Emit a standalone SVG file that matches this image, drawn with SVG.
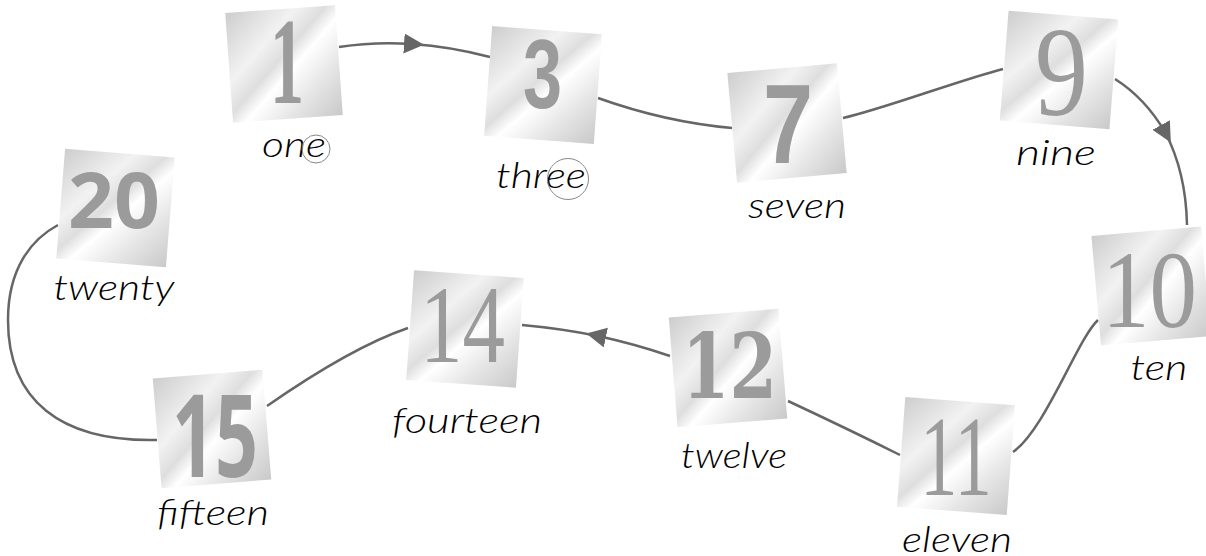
<svg xmlns="http://www.w3.org/2000/svg" width="1206" height="556" viewBox="0 0 1206 556">
<defs>
<linearGradient id="metal" x1="0" y1="0" x2="1" y2="1">
<stop offset="0" stop-color="#cdcdcd"/>
<stop offset="0.32" stop-color="#f2f2f2"/>
<stop offset="0.46" stop-color="#dedede"/>
<stop offset="0.56" stop-color="#ffffff"/>
<stop offset="0.75" stop-color="#e6e6e6"/>
<stop offset="1" stop-color="#c9c9c9"/>
</linearGradient>
<marker id="arr" markerUnits="userSpaceOnUse" markerWidth="22" markerHeight="22" refX="8" refY="10" orient="auto">
<path d="M0,0 L20,10 L0,20 z" fill="#666"/>
</marker>
</defs>
<style>
.tile{fill:url(#metal)}
.num{fill:#9b9b9b;text-anchor:middle}
.lbl{font-family:Lato,"Liberation Sans",sans-serif;font-style:italic;font-weight:300;font-size:35px;fill:#000;text-anchor:middle}
.con{fill:none;stroke:#666;stroke-width:2.5}
.ring{fill:none;stroke:#888;stroke-width:1}
</style>
<rect width="1206" height="556" fill="#fff"/>
<g id="connectors">
<path class="con" d="M339,47 Q374.5,41.5 412,44 Q450,46.5 490,57" marker-mid="url(#arr)"/>
<path class="con" d="M598,98 Q665,122 732,128"/>
<path class="con" d="M843,118 C880,110 960,80 1003,69"/>
<path class="con" d="M1115,79 Q1145,98 1165,132 Q1186,172 1187,225" marker-mid="url(#arr)"/>
<path class="con" d="M1098,320 C1078,338 1045,430 1013,452"/>
<path class="con" d="M900,455 Q850,430 788,401"/>
<path class="con" d="M670,356 Q635,344 598,336 Q561,328.5 522,325" marker-mid="url(#arr)"/>
<path class="con" d="M408,328 Q352,347 267,406"/>
<path class="con" d="M157,440 C60,442 8,400 8,320 C8,270 30,240 58,225"/>
</g>
<g id="n1">
<rect class="tile" x="-55" y="-55" width="110" height="110" transform="translate(284,64) rotate(-4.1)"/>
<text class="num" x="287" y="103" font-family="Liberation Serif" font-weight="bold" font-size="122" textLength="34" lengthAdjust="spacingAndGlyphs">1</text>
<text class="lbl" x="294" y="157" textLength="64" lengthAdjust="spacingAndGlyphs">one</text>
<circle class="ring" cx="316" cy="149" r="14"/>
</g>
<g id="n3">
<rect class="tile" x="-55" y="-55" width="110" height="110" transform="translate(543,85) rotate(4.2)"/>
<text class="num" x="542.5" y="108" font-family="Liberation Sans" font-weight="bold" font-size="98" textLength="39" lengthAdjust="spacingAndGlyphs">3</text>
<text class="lbl" x="541" y="188" textLength="90" lengthAdjust="spacingAndGlyphs">three</text>
<circle class="ring" cx="568" cy="179" r="20.5"/>
</g>
<g id="n7">
<rect class="tile" x="-55" y="-55" width="110" height="110" transform="translate(787,123) rotate(-5.1)"/>
<text class="num" x="788" y="163" font-family="Liberation Sans" font-weight="bold" font-size="113" textLength="50" lengthAdjust="spacingAndGlyphs">7</text>
<text class="lbl" x="797" y="218" textLength="98" lengthAdjust="spacingAndGlyphs">seven</text>
</g>
<g id="n9">
<rect class="tile" x="-55" y="-55" width="110" height="110" transform="translate(1059,70) rotate(4.6)"/>
<text class="num" x="1061.5" y="115" font-family="Liberation Serif" font-size="128" textLength="53" lengthAdjust="spacingAndGlyphs">9</text>
<text class="lbl" x="1056" y="165" textLength="80" lengthAdjust="spacingAndGlyphs">nine</text>
</g>
<g id="n10">
<rect class="tile" x="-55" y="-55" width="110" height="110" transform="translate(1151,286) rotate(-5)"/>
<text class="num" x="1149.5" y="327" font-family="Liberation Serif" font-size="111" textLength="95" lengthAdjust="spacingAndGlyphs">10</text>
<text class="lbl" x="1159" y="380" textLength="57" lengthAdjust="spacingAndGlyphs">ten</text>
</g>
<g id="n11">
<rect class="tile" x="-55" y="-55" width="110" height="110" transform="translate(956,456) rotate(4.3)"/>
<text class="num" x="956" y="495" font-family="Liberation Serif" font-size="114" textLength="72" lengthAdjust="spacingAndGlyphs">11</text>
<text class="lbl" x="957" y="552" textLength="110" lengthAdjust="spacingAndGlyphs">eleven</text>
</g>
<g id="n12">
<rect class="tile" x="-55" y="-55" width="110" height="110" transform="translate(728,368) rotate(-4.6)"/>
<text class="num" x="729.5" y="398" font-family="DejaVu Serif" font-weight="bold" font-size="90" textLength="95" lengthAdjust="spacingAndGlyphs">12</text>
<text class="lbl" x="734" y="468" textLength="106" lengthAdjust="spacingAndGlyphs">twelve</text>
</g>
<g id="n14">
<rect class="tile" x="-55" y="-55" width="110" height="110" transform="translate(465,329) rotate(4.1)"/>
<text class="num" x="462.5" y="362" font-family="Liberation Serif" font-size="110" textLength="85" lengthAdjust="spacingAndGlyphs">14</text>
<text class="lbl" x="467" y="433" textLength="150" lengthAdjust="spacingAndGlyphs">fourteen</text>
</g>
<g id="n15">
<rect class="tile" x="-55" y="-55" width="110" height="110" transform="translate(212,429) rotate(-4.6)"/>
<text class="num" x="215" y="477" font-family="Open Sans" font-weight="bold" font-size="115" textLength="86" lengthAdjust="spacingAndGlyphs">15</text>
<text class="lbl" x="213" y="525" textLength="112" lengthAdjust="spacingAndGlyphs">fifteen</text>
</g>
<g id="n20">
<rect class="tile" x="-55" y="-55" width="110" height="110" transform="translate(115.5,208) rotate(4.6)"/>
<text class="num" x="114" y="228" font-family="Noto Sans" font-weight="bold" font-size="77" textLength="92" lengthAdjust="spacingAndGlyphs">20</text>
<text class="lbl" x="114" y="300" textLength="121" lengthAdjust="spacingAndGlyphs">twenty</text>
</g>
</svg>
